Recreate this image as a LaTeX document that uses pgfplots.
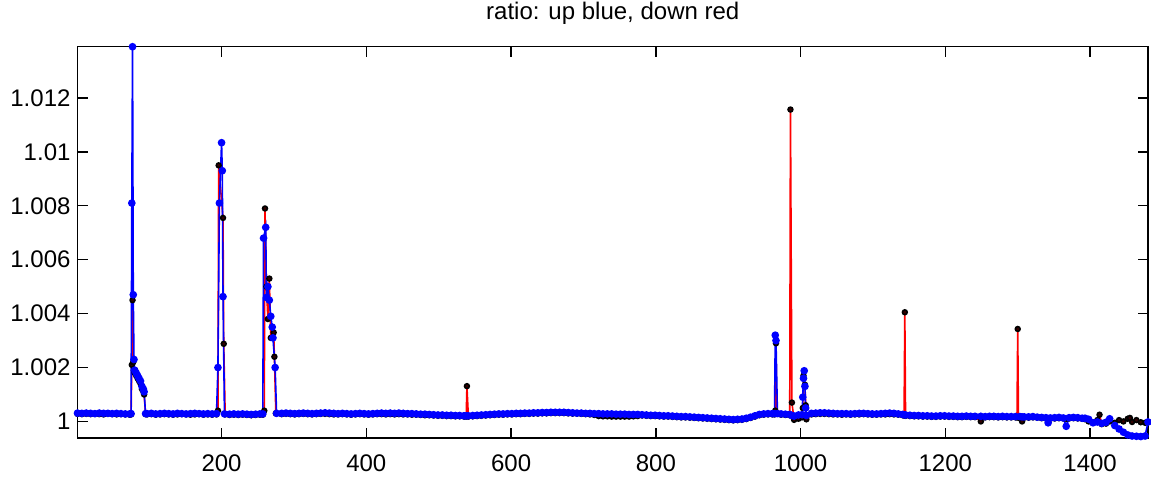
\documentclass[border=0pt]{standalone}
\usepackage{fontspec}
\setmainfont{Liberation Sans}
\usepackage{pgfplots}
\usepackage{pgfplotstable}
\pgfplotsset{compat=1.18}

% x = sample index, dn = down ratio (red), up = up ratio (blue)
\pgfplotstableread[row sep=\\]{
x dn up\\
1 1.00028 1.00031\\ 7 1.00027 1.00030\\ 13 1.00028 1.00031\\ 19 1.00027 1.00030\\
25 1.00028 1.00029\\ 31 1.00027 1.00031\\ 37 1.00026 1.00030\\ 43 1.00028 1.00030\\
49 1.00027 1.00029\\ 55 1.00026 1.00030\\ 61 1.00027 1.00029\\ 67 1.00026 1.00028\\
73 1.00025 1.00028\\ 75 1.00026 1.00029\\
76 1.0021 1.0081\\ 77 1.0045 1.0139\\ 78 1.0022 1.0047\\ 79 1.0019 1.0023\\
80 1.0018 1.0019\\ 82 1.0017 1.0018\\ 84 1.0016 1.0017\\ 86 1.0015 1.0016\\
88 1.0014 1.0015\\ 90 1.0012 1.0013\\ 92 1.0011 1.0012\\ 93 1.0010 1.0011\\
95 1.00027 1.00029\\ 97 1.00026 1.00029\\ 103 1.00027 1.00030\\ 109 1.00025 1.00028\\
115 1.00026 1.00029\\ 121 1.00027 1.00030\\ 127 1.00026 1.00029\\ 133 1.00025 1.00028\\
139 1.00026 1.00030\\ 145 1.00027 1.00029\\ 151 1.00026 1.00028\\ 157 1.00025 1.00029\\
163 1.00026 1.00030\\ 169 1.00027 1.00029\\ 175 1.00025 1.00028\\ 181 1.00026 1.00029\\
187 1.00025 1.00028\\ 193 1.00026 1.00029\\
195 1.00040 1.00200\\ 196 1.00950 nan\\ 197 nan 1.00810\\ 200 nan 1.01034\\
201 nan 1.00930\\ 202 1.00755 1.00463\\ 203 1.00288 nan\\ 204 nan 1.00028\\
205 1.00026 nan\\ 211 1.00024 1.00027\\ 217 1.00025 1.00028\\ 223 1.00024 1.00027\\
229 1.00025 1.00028\\ 235 1.00024 1.00027\\ 241 1.00023 1.00026\\ 247 1.00024 1.00027\\
253 1.00025 1.00028\\ 257 1.00025 1.00028\\
258 nan 1.0068\\ 259 1.0004 nan\\ 260 1.0079 nan\\ 261 nan 1.0072\\
262 1.0050 1.0046\\ 264 1.0038 1.0050\\ 266 1.0053 1.0045\\ 268 1.0031 1.0039\\
270 nan 1.0035\\ 271 nan 1.0031\\ 272 1.0033 nan\\ 273 1.0024 nan\\
274 nan 1.0020\\ 275 1.00030 nan\\ 276 nan 1.00030\\
283 1.00027 1.00030\\ 289 1.00028 1.00031\\ 295 1.00027 1.00030\\ 301 1.00026 1.00029\\
307 1.00027 1.00030\\ 313 1.00028 1.00031\\ 319 1.00027 1.00030\\ 325 1.00026 1.00029\\
331 1.00027 1.00030\\ 337 1.00028 1.00031\\ 343 1.00028 1.00032\\ 349 1.00027 1.00031\\
355 1.00026 1.00030\\ 361 1.00026 1.00029\\ 367 1.00027 1.00030\\ 373 1.00026 1.00029\\
379 1.00025 1.00028\\ 385 1.00026 1.00029\\ 391 1.00027 1.00030\\ 397 1.00026 1.00029\\
403 1.00025 1.00028\\ 409 1.00026 1.00029\\ 415 1.00027 1.00030\\ 421 1.00027 1.00031\\
427 1.00026 1.00030\\ 433 1.00027 1.00031\\ 439 1.00026 1.00030\\ 445 1.00027 1.00031\\
451 1.00026 1.00030\\ 457 1.00026 1.00029\\ 463 1.00025 1.00029\\ 469 1.00025 1.00028\\
475 1.00024 1.00027\\ 481 1.00023 1.00027\\ 487 1.00023 1.00026\\ 493 1.00022 1.00025\\
499 1.00021 1.00024\\ 505 1.00021 1.00024\\ 511 1.00020 1.00023\\ 517 1.00020 1.00023\\
523 1.00019 1.00022\\ 529 1.00019 1.00022\\ 535 1.00018 1.00021\\ 538 1.00018 1.00021\\
539 1.00131 nan\\ 541 1.00018 1.00021\\ 547 1.00019 1.00022\\ 553 1.00020 1.00023\\
559 1.00021 1.00024\\ 565 1.00022 1.00025\\ 571 1.00023 1.00026\\ 577 1.00024 1.00027\\
583 1.00025 1.00028\\ 589 1.00025 1.00028\\ 595 1.00026 1.00029\\ 601 1.00026 1.00029\\
607 1.00027 1.00030\\ 613 1.00027 1.00030\\ 619 1.00028 1.00031\\ 625 1.00028 1.00031\\
631 1.00029 1.00032\\ 637 1.00029 1.00032\\ 643 1.00030 1.00033\\ 649 1.00030 1.00033\\
655 1.00031 1.00034\\ 661 1.00031 1.00034\\ 667 1.00031 1.00034\\ 673 1.00031 1.00034\\
679 1.00030 1.00033\\ 685 1.00029 1.00032\\ 691 1.00029 1.00031\\ 697 1.00028 1.00031\\
703 1.00027 1.00030\\ 709 1.00026 1.00030\\ 715 1.00024 1.00029\\ 721 1.00020 1.00029\\
727 1.00019 1.00028\\ 733 1.00019 1.00028\\ 739 1.00018 1.00028\\ 745 1.00018 1.00027\\
751 1.00018 1.00027\\ 757 1.00018 1.00027\\ 763 1.00018 1.00026\\ 769 1.00019 1.00026\\
775 1.00020 1.00026\\ 781 1.00022 1.00025\\ 787 1.00021 1.00024\\ 793 1.00020 1.00023\\
799 1.00020 1.00023\\ 805 1.00019 1.00022\\ 811 1.00018 1.00021\\ 817 1.00018 1.00021\\
823 1.00017 1.00020\\ 829 1.00016 1.00019\\ 835 1.00015 1.00018\\ 841 1.00015 1.00018\\
847 1.00014 1.00017\\ 853 1.00013 1.00016\\ 859 1.00012 1.00015\\ 865 1.00011 1.00014\\
871 1.00010 1.00013\\ 877 1.00009 1.00012\\ 883 1.00008 1.00011\\ 889 1.00007 1.00010\\
895 1.00006 1.00009\\ 901 1.00005 1.00008\\ 907 1.00004 1.00007\\ 913 1.00005 1.00008\\
919 1.00006 1.00009\\ 925 1.00009 1.00012\\ 931 1.00013 1.00016\\ 937 1.00018 1.00021\\
943 1.00023 1.00026\\ 949 1.00025 1.00028\\ 955 1.00026 1.00029\\ 961 1.00026 1.00029\\
964 1.00026 1.00029\\ 965 1.00040 1.00320\\ 966 1.00290 1.00300\\ 967 1.00030 nan\\
968 nan 1.00029\\ 973 1.00025 1.00028\\ 979 1.00024 1.00027\\ 985 1.00023 1.00026\\
986 1.01157 nan\\ 988 1.00070 1.00022\\ 991 1.00006 1.00020\\ 997 1.00010 1.00024\\
1002 1.00015 1.00025\\ 1003 1.00050 1.00090\\ 1004 1.00170 1.00160\\ 1005 nan 1.00188\\
1006 1.00136 1.00130\\ 1007 1.00060 1.00050\\ 1008 1.00008 1.00022\\
1015 1.00026 1.00030\\ 1021 1.00027 1.00031\\ 1027 1.00028 1.00032\\ 1033 1.00028 1.00032\\
1039 1.00027 1.00031\\ 1045 1.00026 1.00030\\ 1051 1.00026 1.00029\\ 1057 1.00025 1.00029\\
1063 1.00026 1.00029\\ 1069 1.00025 1.00028\\ 1075 1.00026 1.00029\\ 1081 1.00026 1.00030\\
1087 1.00027 1.00030\\ 1093 1.00026 1.00029\\ 1099 1.00025 1.00028\\ 1105 1.00025 1.00028\\
1111 1.00026 1.00029\\ 1117 1.00026 1.00030\\ 1123 1.00027 1.00031\\ 1129 1.00026 1.00030\\
1135 1.00025 1.00028\\ 1141 1.00023 1.00026\\ 1143 1.00022 1.00025\\ 1144 1.00405 nan\\
1145 1.00021 1.00024\\ 1151 1.00020 1.00023\\ 1157 1.00019 1.00022\\ 1163 1.00019 1.00022\\
1169 1.00018 1.00021\\ 1175 1.00018 1.00021\\ 1181 1.00017 1.00020\\ 1187 1.00017 1.00020\\
1193 1.00018 1.00021\\ 1199 1.00018 1.00021\\ 1205 1.00017 1.00020\\ 1211 1.00017 1.00020\\
1217 1.00016 1.00019\\ 1223 1.00016 1.00019\\ 1229 1.00017 1.00020\\ 1235 1.00016 1.00019\\
1241 1.00016 1.00019\\ 1249 1.00000 1.00019\\ 1255 1.00015 1.00018\\ 1261 1.00016 1.00019\\
1267 1.00016 1.00019\\ 1273 1.00015 1.00018\\ 1279 1.00016 1.00019\\ 1285 1.00015 1.00018\\
1291 1.00015 1.00018\\ 1297 1.00015 1.00018\\ 1299 1.00015 nan\\ 1300 1.00343 nan\\
1301 1.00014 nan\\ 1303 1.00015 1.00018\\ 1306 1.00000 1.00017\\ 1309 1.00014 1.00017\\
1315 1.00014 1.00017\\ 1321 1.00015 1.00018\\ 1327 1.00014 1.00016\\ 1333 1.00012 1.00015\\
1339 1.00011 1.00014\\ 1342 nan 0.99995\\ 1345 1.00010 1.00013\\ 1351 1.00011 1.00014\\
1357 1.00012 1.00015\\ 1363 1.00011 1.00013\\ 1367 1.00010 0.99982\\ 1371 1.00011 1.00014\\
1377 1.00012 1.00015\\ 1383 1.00011 1.00014\\ 1389 1.00010 1.00012\\ 1393 1.00008 1.00012\\
1398 1.00000 1.00008\\ 1404 0.99995 0.99995\\ 1410 1.00005 0.99998\\ 1413 1.00025 nan\\
1416 0.99990 0.99993\\ 1422 0.99992 0.99997\\ 1427 1.00000 1.00010\\ 1434 0.99995 0.99985\\
1440 1.00005 0.99972\\ 1446 1.00000 0.99960\\ 1452 1.00010 0.99950\\ 1455 1.00013 nan\\
1458 0.99998 0.99946\\ 1464 1.00005 0.99945\\ 1470 0.99997 0.99944\\ 1476 0.99995 0.99946\\
1480 0.99998 0.99998\\
}\ratiodata

\begin{document}
\begin{tikzpicture}
\begin{axis}[
    scale only axis,
    width=535pt, height=195.5pt,
    xmin=1, xmax=1480,
    ymin=0.99939, ymax=1.0139,
    xtick={200,400,600,800,1000,1200,1400},
    ytick={1,1.002,1.004,1.006,1.008,1.01,1.012},
    tick align=inside,
    major tick length=5pt,
    axis line style={line width=0.7pt},
    every tick/.style={black, line width=0.7pt},
    tick label style={font=\fontsize{12}{14}\selectfont, /pgf/number format/assume math mode=true},
    yticklabel style={/pgf/number format/.cd, fixed, precision=3},
    xticklabel style={yshift=-5pt, /pgf/number format/set thousands separator={}},
    title={ratio: up blue, down red},
    title style={font=\fontsize{12}{14}\selectfont, yshift=1.8pt},
]
\addplot[color=red, line width=0.8pt, mark=*, mark size=1.2pt,
         mark options={draw=black, fill=black!80!red}]
    table[x=x, y=dn] {\ratiodata};
\addplot[color=blue, line width=0.8pt, mark=*, mark size=1.5pt,
         mark options={draw=blue, fill=blue}]
    table[x=x, y=up] {\ratiodata};
\end{axis}
\pgfresetboundingbox
\useasboundingbox (-38.75pt,-19.85pt) rectangle (536.5pt,218.85pt);
\end{tikzpicture}
\end{document}
